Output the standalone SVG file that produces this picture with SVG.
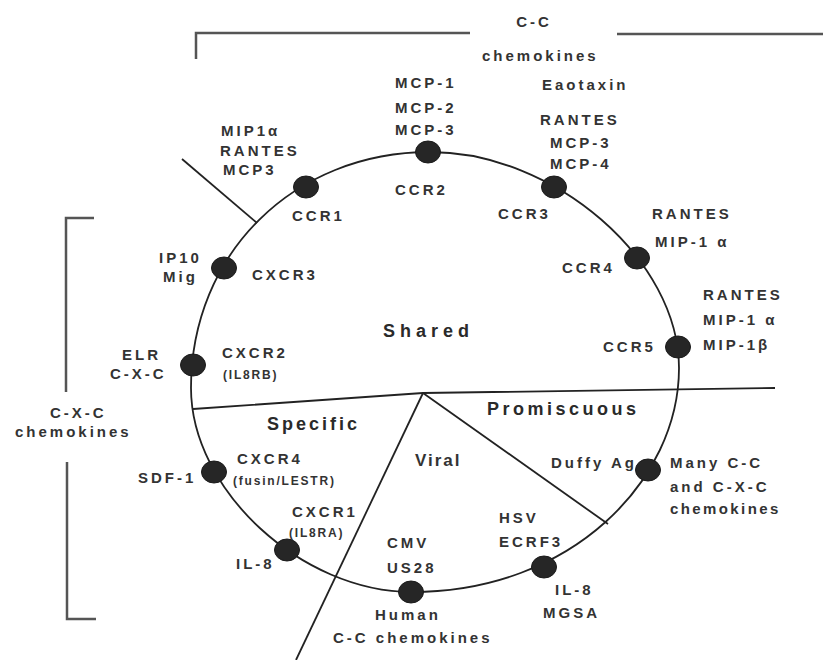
<svg xmlns="http://www.w3.org/2000/svg" width="823" height="660" viewBox="0 0 823 660">
<style>
text{font-family:"Liberation Sans",Arial,sans-serif;font-weight:bold;font-size:15px;letter-spacing:3px;fill:#333}
.sm{font-size:12px;letter-spacing:1.8px}
.rg{font-size:18px;letter-spacing:3px;fill:#2a2a2a}
.vr{font-size:17px;letter-spacing:2px}
.dot{fill:#262626;stroke:#1a1a1a;stroke-width:1}
.ln{fill:none;stroke:#222;stroke-width:1.8}
.br{fill:none;stroke:#555;stroke-width:2.5}
</style>
<rect width="823" height="660" fill="#fff"/>
<g id="brackets">
<path class="br" d="M196,59 V33 H470 M617,34 H823"/>
<text x="534" y="27" text-anchor="middle">C-C</text>
<text x="482" y="61">chemokines</text>
<path class="br" d="M94,218 H66 V392 M67,462 V619 H96"/>
<text x="50" y="418">C-X-C</text>
<text x="15" y="437">chemokines</text>
</g>
<g id="connectors">
<path class="ln" d="M430,152 C554.5,152 679,260 679,368 C679,480 572,592 412,592 C301.5,592 191,490 191,388 C191,253.5 293.8,152 430,152 Z"/>
<path class="ln" d="M182,159 L257,223"/>
<path class="ln" d="M193,409 L423,393 L775,388"/>
<path class="ln" d="M423,393 L608,524"/>
<path class="ln" d="M423,393 L296,660"/>
</g>
<g id="regions">
<text class="rg" x="383" y="337" style="letter-spacing:5px">Shared</text>
<text class="rg" x="267" y="430">Specific</text>
<text class="rg" x="487" y="415" style="letter-spacing:3.5px">Promiscuous</text>
<text class="vr" x="415" y="466">Viral</text>
</g>
<g id="ccr1">
<ellipse class="dot" cx="306" cy="187" rx="12.5" ry="11"/>
<text x="221" y="136">MIP1α</text>
<text x="220" y="156">RANTES</text>
<text x="223" y="175">MCP3</text>
<text x="292" y="221">CCR1</text>
</g>
<g id="ccr2">
<ellipse class="dot" cx="428" cy="152" rx="12.5" ry="11"/>
<text x="395" y="88">MCP-1</text>
<text x="395" y="113">MCP-2</text>
<text x="395" y="135">MCP-3</text>
<text x="395" y="195">CCR2</text>
</g>
<g id="ccr3">
<ellipse class="dot" cx="554" cy="187" rx="12.5" ry="11"/>
<text x="542" y="90">Eaotaxin</text>
<text x="540" y="125">RANTES</text>
<text x="550" y="148">MCP-3</text>
<text x="550" y="169">MCP-4</text>
<text x="498" y="219">CCR3</text>
</g>
<g id="ccr4">
<ellipse class="dot" cx="637" cy="258" rx="12.5" ry="11"/>
<text x="652" y="219">RANTES</text>
<text x="655" y="247">MIP-1 α</text>
<text x="562" y="273">CCR4</text>
</g>
<g id="ccr5">
<ellipse class="dot" cx="678" cy="347" rx="12.5" ry="11"/>
<text x="703" y="300">RANTES</text>
<text x="703" y="325">MIP-1 α</text>
<text x="703" y="350">MIP-1β</text>
<text x="603" y="352">CCR5</text>
</g>
<g id="cxcr3">
<ellipse class="dot" cx="224" cy="268" rx="12.5" ry="11"/>
<text x="159" y="263">IP10</text>
<text x="163" y="282">Mig</text>
<text x="252" y="280">CXCR3</text>
</g>
<g id="cxcr2">
<ellipse class="dot" cx="193" cy="365" rx="12.5" ry="11"/>
<text x="122" y="360">ELR</text>
<text x="110" y="379">C-X-C</text>
<text x="222" y="358">CXCR2</text>
<text class="sm" x="223" y="379">(IL8RB)</text>
</g>
<g id="cxcr4">
<ellipse class="dot" cx="214" cy="472" rx="12.5" ry="11"/>
<text x="138" y="483">SDF-1</text>
<text x="237" y="464">CXCR4</text>
<text class="sm" x="233" y="485">(fusin/LESTR)</text>
</g>
<g id="cxcr1">
<ellipse class="dot" cx="287" cy="550" rx="12.5" ry="11"/>
<text x="292" y="517">CXCR1</text>
<text class="sm" x="289" y="537">(IL8RA)</text>
<text x="236" y="569">IL-8</text>
</g>
<g id="cmv">
<ellipse class="dot" cx="411" cy="592" rx="12.5" ry="11"/>
<text x="387" y="548">CMV</text>
<text x="387" y="573">US28</text>
<text x="375" y="620">Human</text>
<text x="333" y="643">C-C chemokines</text>
</g>
<g id="hsv">
<ellipse class="dot" cx="544" cy="567" rx="12.5" ry="11"/>
<text x="499" y="523">HSV</text>
<text x="499" y="547">ECRF3</text>
<text x="555" y="595">IL-8</text>
<text x="543" y="618">MGSA</text>
</g>
<g id="duffy">
<ellipse class="dot" cx="648" cy="470" rx="12.5" ry="11"/>
<text x="551" y="468">Duffy Ag</text>
<text x="670" y="468">Many C-C</text>
<text x="670" y="492">and C-X-C</text>
<text x="670" y="514" style="letter-spacing:2.4px">chemokines</text>
</g>
</svg>
